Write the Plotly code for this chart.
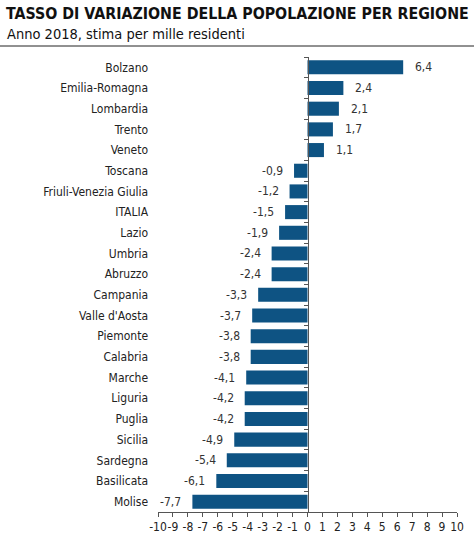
import plotly.graph_objects as go

regions = ["Bolzano", "Emilia-Romagna", "Lombardia", "Trento", "Veneto", "Toscana",
           "Friuli-Venezia Giulia", "ITALIA", "Lazio", "Umbria", "Abruzzo", "Campania",
           "Valle d'Aosta", "Piemonte", "Calabria", "Marche", "Liguria", "Puglia",
           "Sicilia", "Sardegna", "Basilicata", "Molise"]
values = [6.4, 2.4, 2.1, 1.7, 1.1, -0.9, -1.2, -1.5, -1.9, -2.4, -2.4, -3.3,
          -3.7, -3.8, -3.8, -4.1, -4.2, -4.2, -4.9, -5.4, -6.1, -7.7]
x_ticks = list(range(-10, 11))

title = "TASSO DI VARIAZIONE DELLA POPOLAZIONE PER REGIONE"
subtitle = "Anno 2018, stima per mille residenti"

FONT = "DejaVu Sans Condensed, Liberation Sans Narrow, Arial Narrow, sans-serif"
BAR = "#0e5383"

W, H = 474, 539
ML, MR, MT, MB = 158, 17, 57, 27
PW, PH = W - ML - MR, H - MT - MB


def px_x(p):
    return (p - ML) / PW


def px_y(p):
    return (H - MB - p) / PH


fig = go.Figure(go.Bar(
    x=values, y=regions, orientation="h",
    marker=dict(color=BAR, line=dict(width=0)),
    width=0.68, hoverinfo="skip",
))

annotations = []
for r, v in zip(regions, values):
    annotations.append(dict(
        x=v, y=r, xref="x", yref="y",
        text=f"{v:.1f}".replace(".", ","),
        showarrow=False,
        xanchor="left" if v > 0 else "right",
        xshift=10 if v > 0 else -9,
        font=dict(family=FONT, size=12, color="#333333"),
    ))

annotations.append(dict(
    x=px_x(4), y=px_y(14), xref="paper", yref="paper", text=f"<b>{title}</b>",
    showarrow=False, xanchor="left", yanchor="middle",
    font=dict(family=FONT, size=15.8, color="#111111"),
))
annotations.append(dict(
    x=px_x(5), y=px_y(34), xref="paper", yref="paper", text=subtitle,
    showarrow=False, xanchor="left", yanchor="middle",
    font=dict(family=FONT, size=14.5, color="#111111"),
))

fig.update_layout(
    width=W, height=H,
    margin=dict(l=ML, r=MR, t=MT, b=MB, pad=0),
    paper_bgcolor="white", plot_bgcolor="white",
    showlegend=False,
    annotations=annotations,
    shapes=[dict(type="line", xref="paper", yref="paper",
                 x0=px_x(0), x1=px_x(W), y0=px_y(46), y1=px_y(46),
                 line=dict(color="#222222", width=1))],
    xaxis=dict(
        range=[-10, 10], tickmode="array", tickvals=x_ticks,
        ticktext=[str(t) for t in x_ticks], tickangle=0,
        showgrid=False, zeroline=False,
        showline=True, linecolor="#555555", linewidth=1,
        ticks="outside", ticklen=4, tickcolor="#555555",
        tickfont=dict(family=FONT, size=12, color="#222222"),
        automargin=False, fixedrange=True,
    ),
    yaxis=dict(
        type="category", autorange="reversed",
        anchor="free", position=0.5,
        showgrid=False, zeroline=False,
        showline=True, linecolor="#555555", linewidth=1,
        ticks="outside", ticklen=4, tickcolor="#555555", tickson="boundaries",
        ticklabelstandoff=157,
        tickfont=dict(family=FONT, size=12, color="#222222"),
        automargin=False, fixedrange=True,
    ),
)

fig.write_html("out.html", config={"displayModeBar": False},
               post_script="document.body.style.margin='0';")
